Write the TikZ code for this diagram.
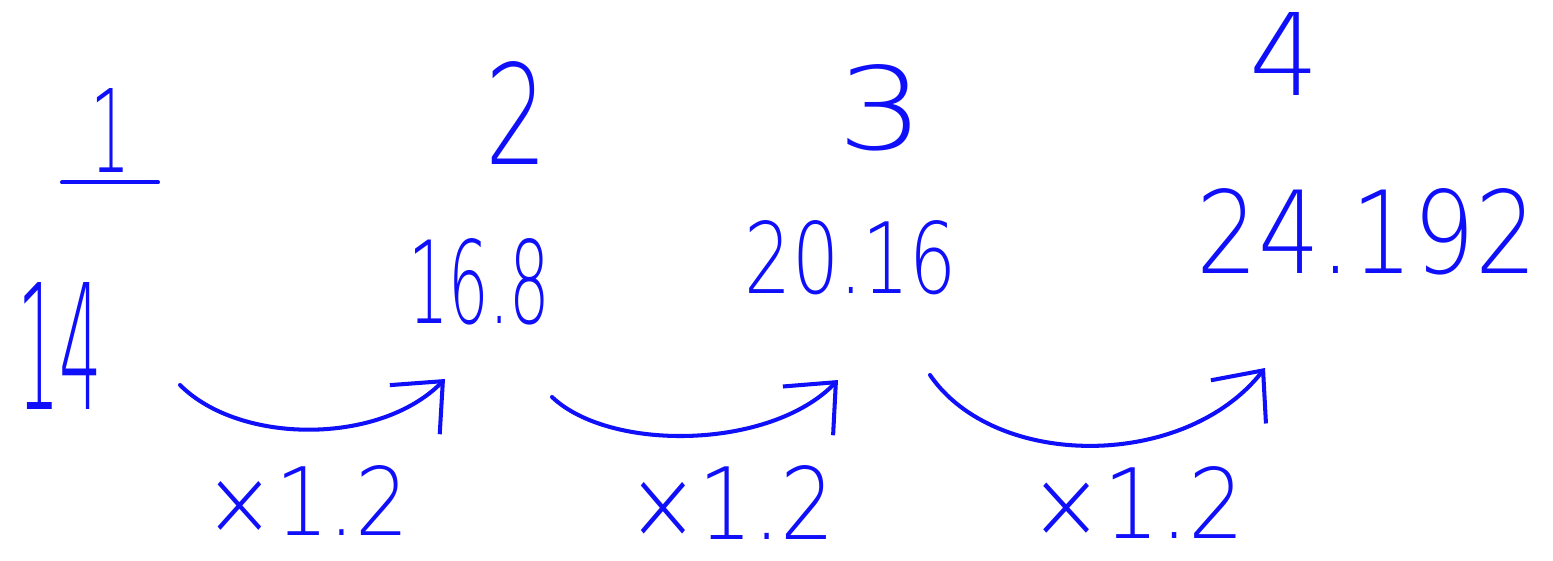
\documentclass[tikz,border=0pt]{standalone}
\usepackage{fontspec}
\usepackage{graphicx}
\usetikzlibrary{arrows.meta,calc}
\newfontfamily\handfont{DejaVu Sans ExtraLight}
\definecolor{ink}{RGB}{15,15,250}
\newdimen\pxu \pxu=0.02cm
\newcommand{\handbox}[3]{\resizebox{#1\pxu}{#2\pxu}{\handfont #3}}
\tikzset{
  txt/.style={inner sep=0pt, text=ink},
  ink line/.style={draw=ink, line width=2.3pt, line cap=round, line join=round},
  growth/.style={ink line, -{Straight Barb[length=0.8cm,width=1.4cm,line width=2.3pt]}}
}
\begin{document}
\begin{tikzpicture}[x=0.02cm,y=-0.02cm]
\useasboundingbox (0,0) rectangle (1553,561);
% headers
\node[txt] (h1) at (111,130) {\handbox{40}{84}{1}};
\node[txt] (h2) at (517,113) {\handbox{62}{103}{2}};
\node[txt] (h3) at (881,108) {\handbox{87}{85}{3}};
\node[txt] (h4) at (1285,54) {\handbox{70}{83}{4}};
\draw[ink line] ($(h1.south)+(-49,10)$) -- ++(96,0);
% values
\node[txt] (n1) at (60,346) {\handbox{85}{127}{14}};
\node[txt] (n2) at (479,282) {\handbox{142}{85}{16.8}};
\node[txt] (n3) at (851,258) {\handbox{212}{73}{20.16}};
\node[txt] (n4) at (1367,232) {\handbox{340}{85}{24.192}};
% multipliers
\node[txt] (m1) at (307,500) {\handbox{205}{70}{×1.2}};
\node[txt] (m2) at (731,502) {\handbox{208}{74}{×1.2}};
\node[txt] (m3) at (1137,502) {\handbox{215}{72}{×1.2}};
% arrow end points
\coordinate (s1) at (180,385); \coordinate (t1) at (445,379);
\coordinate (s2) at (552,397); \coordinate (t2) at (838,380);
\coordinate (s3) at (930,375); \coordinate (t3) at (1265,368);
\draw[growth] (s1) .. controls (240,445) and (380,445) .. (t1);
\draw[growth] (s2) .. controls (610,452) and (770,450) .. (t2);
\draw[growth] (s3) .. controls (995,470) and (1185,470) .. (t3);
\end{tikzpicture}
\end{document}
